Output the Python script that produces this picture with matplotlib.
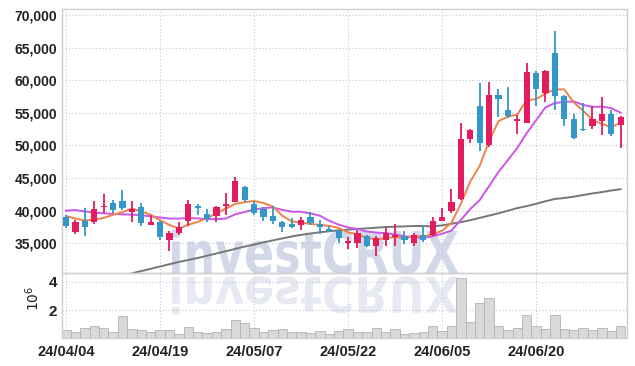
import numpy as np
import matplotlib.pyplot as plt
from matplotlib.textpath import TextPath
from matplotlib.patches import PathPatch
from matplotlib.font_manager import FontProperties
from matplotlib.transforms import Affine2D

# trading days shown (yy/mm/dd)
dates = ['24/04/04', '24/04/05', '24/04/08', '24/04/09', '24/04/11', '24/04/12', '24/04/15',
         '24/04/16', '24/04/17', '24/04/18', '24/04/19', '24/04/22', '24/04/23', '24/04/24',
         '24/04/25', '24/04/26', '24/04/29', '24/04/30', '24/05/02', '24/05/03', '24/05/07',
         '24/05/08', '24/05/09', '24/05/10', '24/05/13', '24/05/14', '24/05/16', '24/05/17',
         '24/05/20', '24/05/21', '24/05/22', '24/05/23', '24/05/24', '24/05/27', '24/05/28',
         '24/05/29', '24/05/30', '24/05/31', '24/06/03', '24/06/04', '24/06/05', '24/06/07',
         '24/06/10', '24/06/11', '24/06/12', '24/06/13', '24/06/14', '24/06/17', '24/06/18',
         '24/06/19', '24/06/20', '24/06/21', '24/06/24', '24/06/25', '24/06/26', '24/06/27',
         '24/06/28', '24/07/01', '24/07/02', '24/07/03']

opens = [39100, 36800, 38400, 38200, 40500, 41200, 41500, 39750, 40600, 37850,
         38200, 35450, 36600, 38500, 40650, 39550, 39250, 40650, 41400, 43600,
         41100, 40300, 39250, 38200, 37900, 37850, 39100, 37900, 37200, 36850,
         35050, 35050, 36050, 34550, 35550, 35950, 36200, 35050, 36300, 36300,
         38500, 39900, 41800, 50950, 56050, 50000, 57750, 55450, 53700, 53500,
         61100, 58050, 64200, 57550, 54100, 52550, 52950, 53700, 54750, 53200]
highs = [39400, 38600, 40400, 41500, 42500, 41700, 43100, 41500, 41200, 39400,
         38400, 36850, 38200, 41700, 41000, 40200, 40800, 42700, 45200, 43750,
         41450, 40550, 40700, 38400, 38850, 39100, 39800, 38600, 37600, 37100,
         36000, 37050, 36300, 36100, 37350, 37950, 36950, 36600, 37600, 39100,
         40400, 43300, 53500, 52500, 59500, 59800, 58600, 58900, 54700, 62600,
         61400, 61500, 67500, 57800, 54850, 56500, 56100, 57450, 55500, 54500]
lows = [37400, 36400, 36200, 38000, 39600, 39650, 40150, 38200, 37700, 37850,
        35550, 33900, 36300, 37600, 39300, 38200, 38300, 39350, 41300, 41400,
        39400, 38350, 37950, 36700, 37300, 37100, 37800, 36500, 36700, 35100,
        34150, 34300, 34400, 33000, 34550, 34550, 34950, 34600, 35200, 36100,
        38400, 39700, 41700, 50450, 49200, 49800, 54400, 54200, 51800, 53400,
        56100, 56700, 55400, 52950, 51000, 52200, 52550, 51550, 51400, 49650]
closes = [37700, 38300, 37500, 40200, 40800, 40050, 40350, 40250, 38050, 38200,
          35900, 36650, 37450, 41050, 40350, 38750, 40500, 41000, 44600, 41700,
          39650, 39000, 38350, 37450, 37450, 38600, 38100, 37450, 36850, 35800,
          35300, 36550, 34650, 35750, 36650, 36350, 35450, 36300, 35450, 38350,
          39100, 41400, 51000, 52400, 50350, 57750, 57100, 54450, 54050, 61200,
          58700, 61350, 57650, 54100, 51200, 52400, 54100, 54750, 51700, 54350]

# volume in millions of shares
volume = [0.60, 0.42, 0.72, 0.90, 0.74, 0.42, 1.55, 0.66, 0.56, 0.42,
          0.56, 0.62, 0.32, 0.78, 0.48, 0.38, 0.44, 0.66, 1.30, 1.05,
          0.74, 0.42, 0.62, 0.66, 0.42, 0.42, 0.38, 0.50, 0.30, 0.50,
          0.66, 0.42, 0.42, 0.72, 0.42, 0.66, 0.30, 0.38, 0.42, 0.84,
          0.50, 0.84, 4.26, 1.12, 2.50, 2.85, 0.84, 0.62, 0.72, 1.65,
          0.84, 0.66, 1.65, 0.66, 0.62, 0.72, 0.60, 0.72, 0.50, 0.84]

# moving averages (5, 10 and 60 day)
ma5 = [39200, 38800, 38500, 38600, 38900, 39370, 39780, 40330, 39900, 39380,
       38550, 37810, 37250, 37850, 38280, 38850, 39620, 40330, 41040, 41310,
       41490, 41190, 40660, 39230, 38380, 38170, 37990, 37810, 37690, 37360,
       36700, 36390, 35830, 35610, 35780, 35990, 35770, 36100, 36040, 36380,
       36930, 38120, 41060, 44450, 46850, 50580, 53720, 54410, 54740, 56910,
       57100, 57950, 58590, 58600, 56600, 55340, 53890, 53310, 52830, 53460]
ma10 = [40000, 40100, 39900, 39700, 39600, 39500, 39450, 39400, 39300, 39140,
        38960, 38800, 38790, 38880, 38830, 38700, 38720, 38790, 39450, 39800,
        40170, 40400, 40500, 40140, 39850, 39830, 39590, 39240, 38460, 37870,
        37440, 37190, 36820, 36650, 36570, 36350, 36080, 35970, 35830, 36080,
        36460, 36950, 38580, 40250, 41620, 43760, 45920, 47740, 49600, 51880,
        53840, 55840, 56500, 56670, 56760, 56220, 55920, 55950, 55720, 55030]
ma60 = [np.nan, np.nan, np.nan, np.nan, np.nan, np.nan, np.nan, 30400, 30750, 31100,
        31450, 31800, 32150, 32450, 32750, 33100, 33450, 33800, 34150, 34500,
        34800, 35150, 35450, 35750, 36050, 36300, 36500, 36700, 36850, 37000,
        37100, 37200, 37300, 37400, 37500, 37550, 37600, 37650, 37650, 37600,
        37750, 38000, 38250, 38550, 38900, 39250, 39600, 40000, 40400, 40700,
        41050, 41450, 41800, 41950, 42150, 42400, 42650, 42850, 43100, 43300]

up_color = '#e31c5f'
down_color = '#3398c9'
label_font = ['Liberation Sans', 'DejaVu Sans']

fig = plt.figure(figsize=(6.35, 3.66), dpi=100)
ax = fig.add_axes([0.0976, 0.2549, 0.8898, 0.7197])
axv = fig.add_axes([0.0976, 0.0757, 0.8898, 0.1792], sharex=ax)
for a in (ax, axv):
    a.set_facecolor('none')
    for s in a.spines.values():
        s.set_color('#cfcfcf')
        s.set_linewidth(1.0)
    a.grid(True, color='#c3c7d6', linestyle=(0, (1, 2)), linewidth=0.8)
    a.tick_params(length=0, labelcolor='#222222')

# watermark with its reflection (drawn behind the axes)
fp = FontProperties(family='DejaVu Sans', weight='bold')
tp = TextPath((0, 0), 'investCRUX', size=100, prop=fp)
ext = tp.get_extents()
sx = 286 / ext.width
sy = 42 / 73.0
wm = Affine2D().translate(-ext.x0, 0).scale(sx, sy).translate(172, 366 - 273)
wm_ref = Affine2D().translate(-ext.x0, 0).scale(sx, -sy * 0.85).translate(172, 366 - 277)
to_fig = Affine2D().scale(1 / 635, 1 / 366) + fig.transFigure
fig.add_artist(PathPatch(tp, transform=wm + to_fig, facecolor='#d2d8e8', edgecolor='none', zorder=-5))
fig.add_artist(PathPatch(tp, transform=wm_ref + to_fig, facecolor='#e6e9f1', edgecolor='none', zorder=-5))

x = np.arange(len(closes))

# moving averages
ax.plot(x, ma60, color='#777777', lw=1.4, zorder=2)
ax.plot(x, ma10, color='#cc55ea', lw=1.4, zorder=2)
ax.plot(x, ma5, color='#ef8249', lw=1.4, zorder=2)

# candlesticks
for i in x:
    o, h, l, c = opens[i], highs[i], lows[i], closes[i]
    col = up_color if c >= o else down_color
    ax.vlines(i, l, h, color=col, lw=1.3, zorder=3)
    ax.bar(i, max(abs(c - o), 120), bottom=min(o, c), width=0.66, color=col, zorder=4)

ax.set_xlim(-0.43, 59.68)
ax.set_ylim(30500, 70870)
ax.set_yticks(range(35000, 70001, 5000))
ax.set_yticklabels([f'{v:,}' for v in range(35000, 70001, 5000)],
                   family=label_font, weight='bold', fontsize=10)
ax.tick_params(axis='x', labelbottom=False)

# volume
axv.bar(x, volume, width=1.0, color='#d9d9d9', edgecolor='#b3b3b3', linewidth=0.6, zorder=2)
axv.set_ylim(0, 4.65)
axv.set_yticks([2, 4])
axv.set_yticklabels(['2', '4'], family=label_font, weight='bold', fontsize=11)
ticks = list(range(0, 60, 10))
axv.set_xticks(ticks)
axv.set_xticklabels([dates[t] for t in ticks], family=label_font, weight='bold', fontsize=10.5)
axv.tick_params(axis='x', pad=5)
fig.text(0.052, 0.185, r'$10^6$', rotation=90, fontsize=10, color='#222222', ha='center', va='center')

fig.savefig('out.png', dpi=100)
